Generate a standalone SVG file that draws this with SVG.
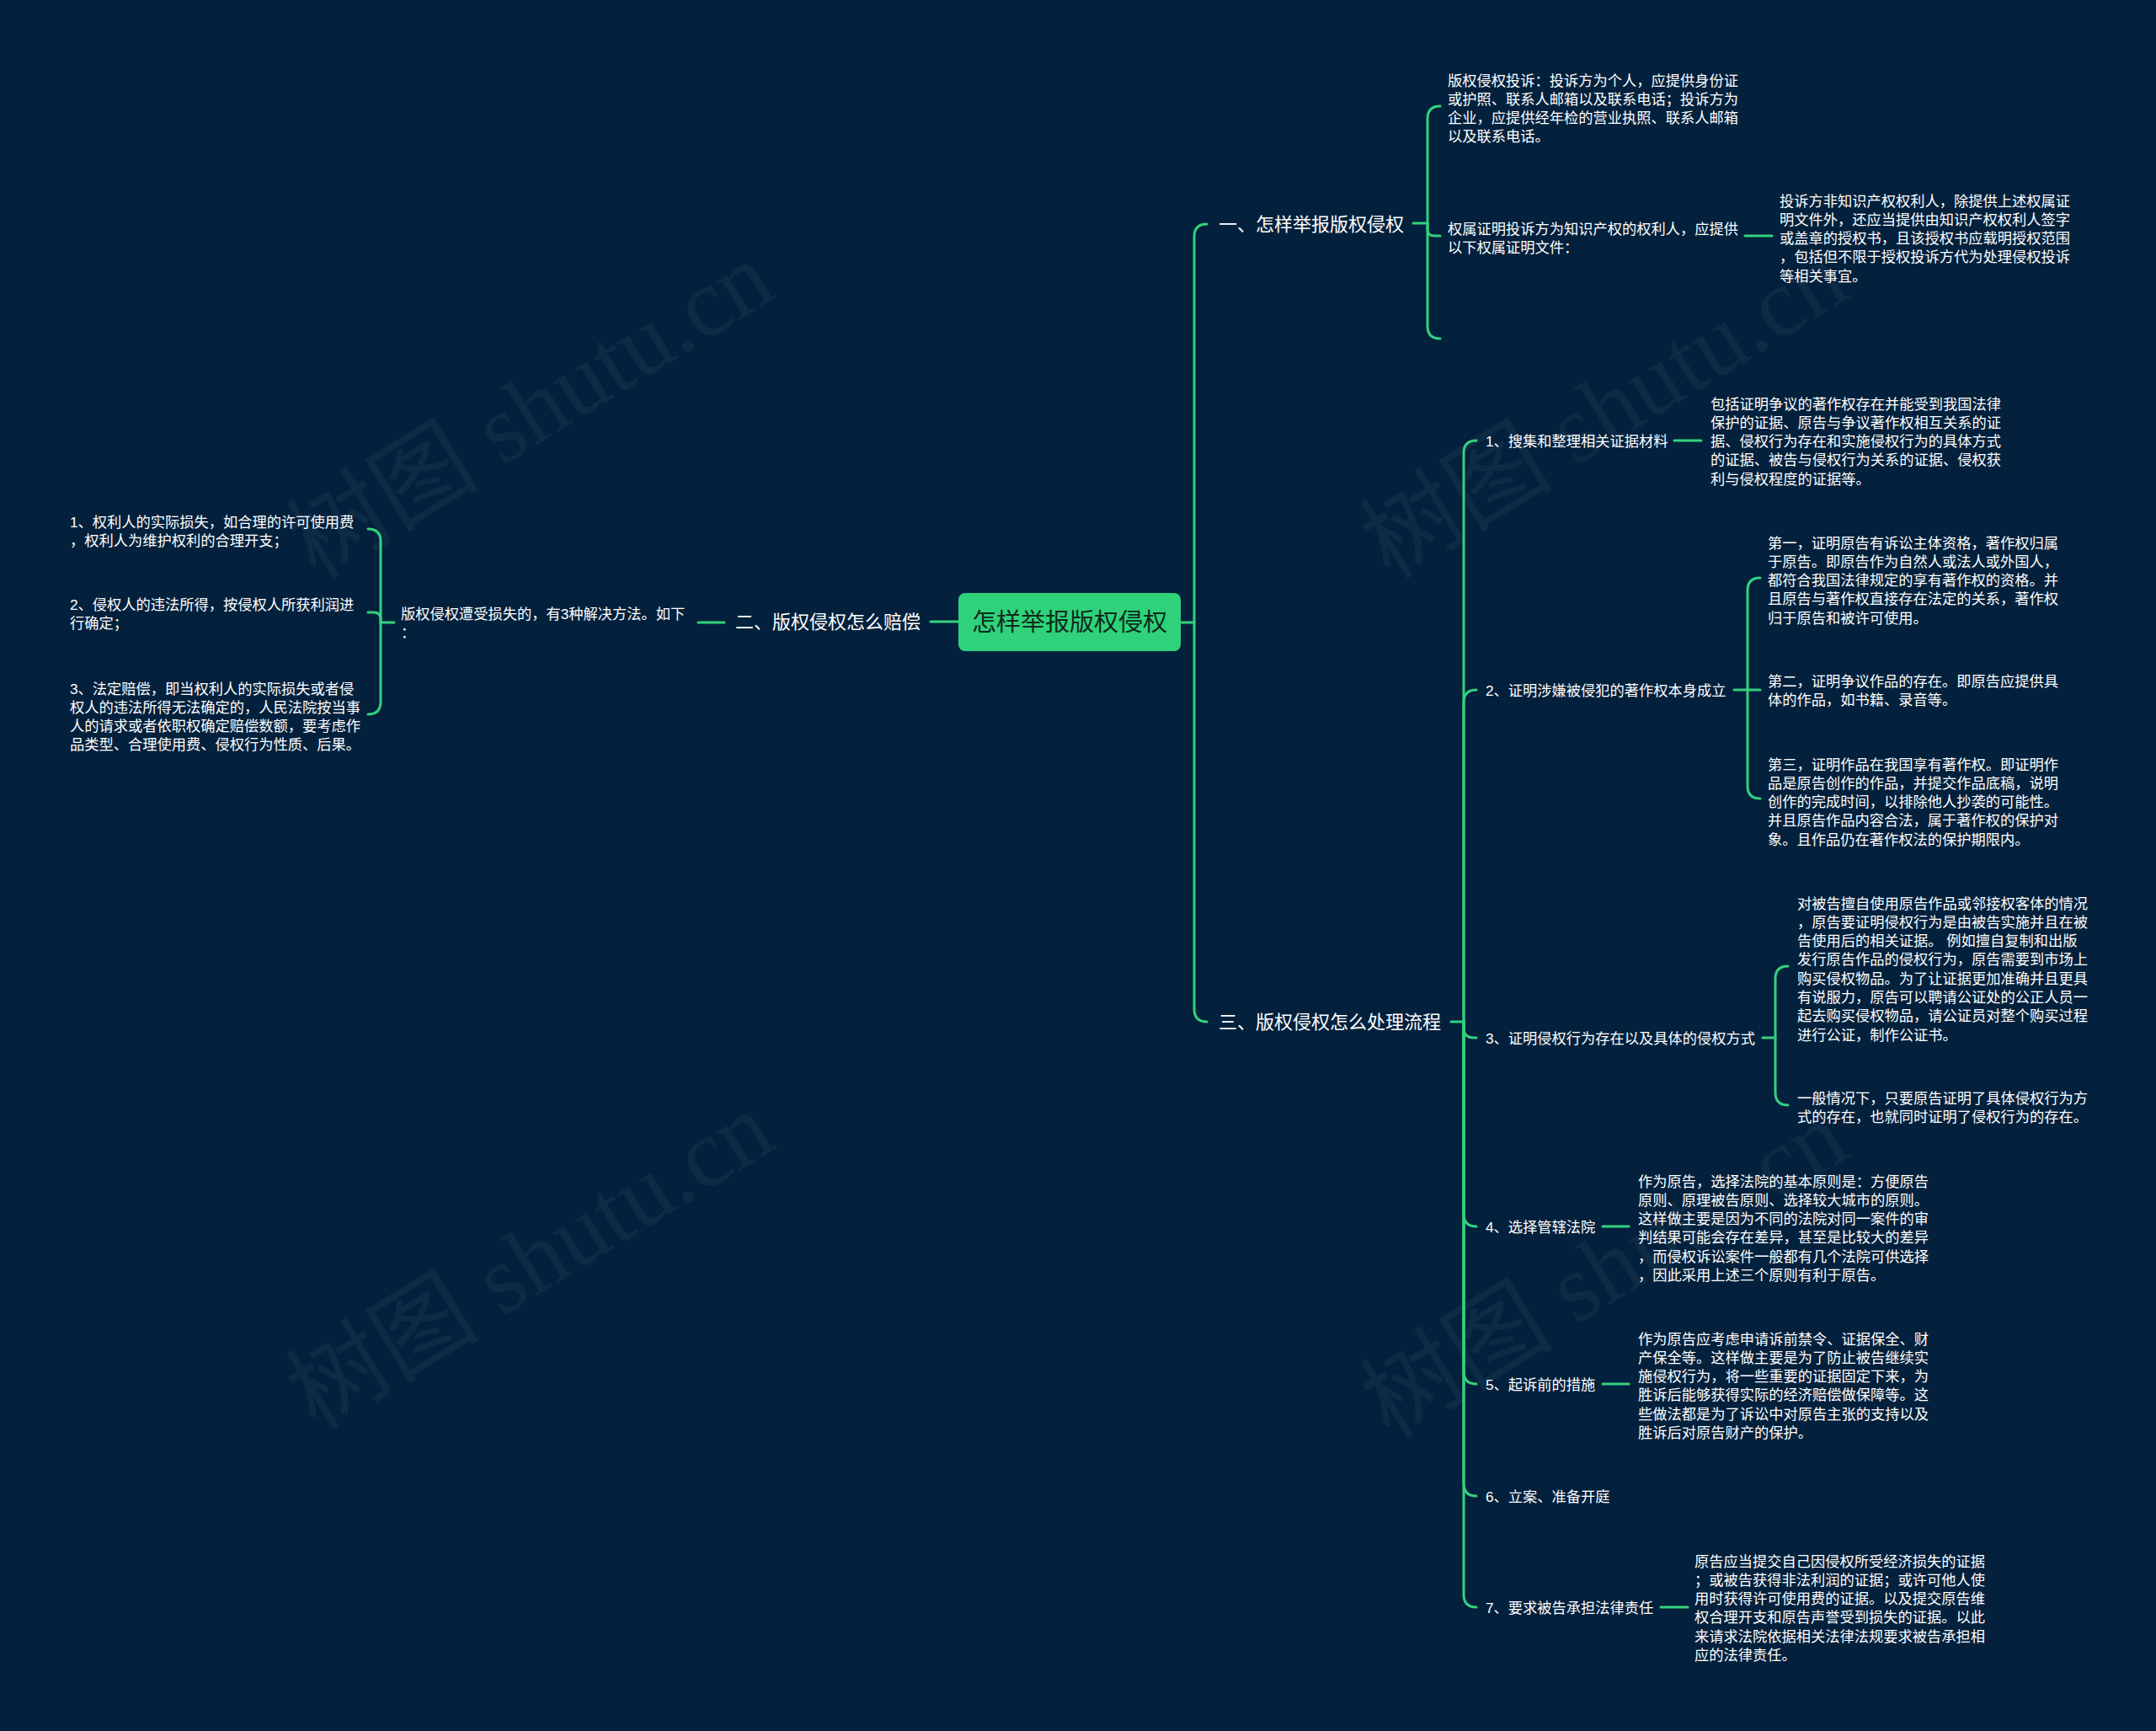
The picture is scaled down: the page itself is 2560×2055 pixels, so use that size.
<svg xmlns="http://www.w3.org/2000/svg" width="2560" height="2055" viewBox="0 0 2560 2055">
<style>
.bg{fill:#03213d}
.ln{fill:none;stroke:#34d17c;stroke-width:3;stroke-linecap:round}
.t{font-family:"Liberation Sans","Noto Sans CJK SC",sans-serif;fill:#ffffff}
.s{font-size:17.25px}
.b{font-size:22px}
.root{font-size:29px;fill:#0d2a1e}
.wm{font-family:"Liberation Serif","Noto Sans CJK SC",serif;font-size:115px;fill:#ffffff;opacity:0.045}
</style>
<rect class="bg" x="0" y="0" width="2560" height="2055"/>
<g id="watermarks">
<text class="wm" transform="translate(650,520) rotate(-31.6)" text-anchor="middle">树图 shutu.cn</text>
<text class="wm" transform="translate(1925,520) rotate(-31.6)" text-anchor="middle">树图 shutu.cn</text>
<text class="wm" transform="translate(650,1530) rotate(-31.6)" text-anchor="middle">树图 shutu.cn</text>
<text class="wm" transform="translate(1925,1540) rotate(-31.6)" text-anchor="middle">树图 shutu.cn</text>
</g>
<g id="connectors">
<path class="ln" d="M1105,738 L1138,738"/>
<path class="ln" d="M829,739 L860,739"/>
<path class="ln" d="M468,739 L452,739"/>
<path class="ln" d="M452,739 L452,643 Q452,628 437,628"/>
<path class="ln" d="M452,739 L452,735 Q452,727 444,727 L437,727"/>
<path class="ln" d="M452,739 L452,833 Q452,848 437,848"/>
<path class="ln" d="M1402,739 L1418,739"/>
<path class="ln" d="M1418,739 L1418,281 Q1418,266 1433,266"/>
<path class="ln" d="M1418,739 L1418,1198 Q1418,1213 1433,1213"/>
<path class="ln" d="M1678,265 L1695,265"/>
<path class="ln" d="M1695,265 L1695,141 Q1695,126 1710,126"/>
<path class="ln" d="M1695,265 L1695,272 Q1695,280 1703,280 L1710,280"/>
<path class="ln" d="M1695,265 L1695,387 Q1695,402 1710,402"/>
<path class="ln" d="M2072,280 L2104,280"/>
<path class="ln" d="M1723,1213 L1738,1213"/>
<path class="ln" d="M1738,1213 L1738,538 Q1738,523 1753,523"/>
<path class="ln" d="M1738,1213 L1738,834 Q1738,819 1753,819"/>
<path class="ln" d="M1738,1213 L1738,1220 Q1738,1232 1750,1232 L1753,1232"/>
<path class="ln" d="M1738,1213 L1738,1441 Q1738,1456 1753,1456"/>
<path class="ln" d="M1738,1213 L1738,1628 Q1738,1643 1753,1643"/>
<path class="ln" d="M1738,1213 L1738,1761 Q1738,1776 1753,1776"/>
<path class="ln" d="M1738,1213 L1738,1893 Q1738,1908 1753,1908"/>
<path class="ln" d="M1988,523 L2020,523"/>
<path class="ln" d="M2059,819 L2075,819"/>
<path class="ln" d="M2075,819 L2075,701 Q2075,686 2090,686"/>
<path class="ln" d="M2075,819 L2090,819"/>
<path class="ln" d="M2075,819 L2075,933 Q2075,948 2090,948"/>
<path class="ln" d="M2093,1232 L2108,1232"/>
<path class="ln" d="M2108,1232 L2108,1162 Q2108,1147 2123,1147"/>
<path class="ln" d="M2108,1232 L2108,1297 Q2108,1312 2123,1312"/>
<path class="ln" d="M1903,1456 L1934,1456"/>
<path class="ln" d="M1903,1643 L1934,1643"/>
<path class="ln" d="M1972,1908 L2004,1908"/>
</g>
<g id="root">
<rect x="1138" y="704" width="264" height="69" rx="8" fill="#2fd27a"/>
<text class="t root" x="1270" y="749" text-anchor="middle">怎样举报版权侵权</text>
</g>
<g id="b2">
<text class="t b" x="873" y="746">二、版权侵权怎么赔偿</text>
</g>
<g id="b2-n">
<text class="t s" x="476" y="734.5">版权侵权遭受损失的，有3种解决方法。如下<tspan x="476" dy="22.3">：</tspan></text>
</g>
<g id="b2-1">
<text class="t s" x="83" y="625.5">1、权利人的实际损失，如合理的许可使用费<tspan x="83" dy="22.3">，权利人为维护权利的合理开支；</tspan></text>
</g>
<g id="b2-2">
<text class="t s" x="83" y="723.5">2、侵权人的违法所得，按侵权人所获利润进<tspan x="83" dy="22.3">行确定；</tspan></text>
</g>
<g id="b2-3">
<text class="t s" x="83" y="823.5">3、法定赔偿，即当权利人的实际损失或者侵<tspan x="83" dy="22.3">权人的违法所得无法确定的，人民法院按当事</tspan><tspan x="83" dy="22.3">人的请求或者依职权确定赔偿数额，要考虑作</tspan><tspan x="83" dy="22.3">品类型、合理使用费、侵权行为性质、后果。</tspan></text>
</g>
<g id="b1">
<text class="t b" x="1447" y="274">一、怎样举报版权侵权</text>
</g>
<g id="b1-1">
<text class="t s" x="1719" y="101.5">版权侵权投诉：投诉方为个人，应提供身份证<tspan x="1719" dy="22.3">或护照、联系人邮箱以及联系电话；投诉方为</tspan><tspan x="1719" dy="22.3">企业，应提供经年检的营业执照、联系人邮箱</tspan><tspan x="1719" dy="22.3">以及联系电话。</tspan></text>
</g>
<g id="b1-2">
<text class="t s" x="1719" y="277.5">权属证明投诉方为知识产权的权利人，应提供<tspan x="1719" dy="22.3">以下权属证明文件：</tspan></text>
</g>
<g id="b1-2-1">
<text class="t s" x="2113" y="244.5">投诉方非知识产权权利人，除提供上述权属证<tspan x="2113" dy="22.3">明文件外，还应当提供由知识产权权利人签字</tspan><tspan x="2113" dy="22.3">或盖章的授权书，且该授权书应载明授权范围</tspan><tspan x="2113" dy="22.3">，包括但不限于授权投诉方代为处理侵权投诉</tspan><tspan x="2113" dy="22.3">等相关事宜。</tspan></text>
</g>
<g id="b3">
<text class="t b" x="1447" y="1221">三、版权侵权怎么处理流程</text>
</g>
<g id="b3-1">
<text class="t s" x="1764" y="529.5">1、搜集和整理相关证据材料</text>
</g>
<g id="b3-1-1">
<text class="t s" x="2031" y="485.5">包括证明争议的著作权存在并能受到我国法律<tspan x="2031" dy="22.3">保护的证据、原告与争议著作权相互关系的证</tspan><tspan x="2031" dy="22.3">据、侵权行为存在和实施侵权行为的具体方式</tspan><tspan x="2031" dy="22.3">的证据、被告与侵权行为关系的证据、侵权获</tspan><tspan x="2031" dy="22.3">利与侵权程度的证据等。</tspan></text>
</g>
<g id="b3-2">
<text class="t s" x="1764" y="825.5">2、证明涉嫌被侵犯的著作权本身成立</text>
</g>
<g id="b3-2-1">
<text class="t s" x="2099" y="650.5">第一，证明原告有诉讼主体资格，著作权归属<tspan x="2099" dy="22.3">于原告。即原告作为自然人或法人或外国人，</tspan><tspan x="2099" dy="22.3">都符合我国法律规定的享有著作权的资格。并</tspan><tspan x="2099" dy="22.3">且原告与著作权直接存在法定的关系，著作权</tspan><tspan x="2099" dy="22.3">归于原告和被许可使用。</tspan></text>
</g>
<g id="b3-2-2">
<text class="t s" x="2099" y="814.5">第二，证明争议作品的存在。即原告应提供具<tspan x="2099" dy="22.3">体的作品，如书籍、录音等。</tspan></text>
</g>
<g id="b3-2-3">
<text class="t s" x="2099" y="913.5">第三，证明作品在我国享有著作权。即证明作<tspan x="2099" dy="22.3">品是原告创作的作品，并提交作品底稿，说明</tspan><tspan x="2099" dy="22.3">创作的完成时间，以排除他人抄袭的可能性。</tspan><tspan x="2099" dy="22.3">并且原告作品内容合法，属于著作权的保护对</tspan><tspan x="2099" dy="22.3">象。且作品仍在著作权法的保护期限内。</tspan></text>
</g>
<g id="b3-3">
<text class="t s" x="1764" y="1238.5">3、证明侵权行为存在以及具体的侵权方式</text>
</g>
<g id="b3-3-1">
<text class="t s" x="2134" y="1078.5">对被告擅自使用原告作品或邻接权客体的情况<tspan x="2134" dy="22.3">，原告要证明侵权行为是由被告实施并且在被</tspan><tspan x="2134" dy="22.3">告使用后的相关证据。 例如擅自复制和出版</tspan><tspan x="2134" dy="22.3">发行原告作品的侵权行为，原告需要到市场上</tspan><tspan x="2134" dy="22.3">购买侵权物品。为了让证据更加准确并且更具</tspan><tspan x="2134" dy="22.3">有说服力，原告可以聘请公证处的公正人员一</tspan><tspan x="2134" dy="22.3">起去购买侵权物品，请公证员对整个购买过程</tspan><tspan x="2134" dy="22.3">进行公证，制作公证书。</tspan></text>
</g>
<g id="b3-3-2">
<text class="t s" x="2134" y="1309.5">一般情况下，只要原告证明了具体侵权行为方<tspan x="2134" dy="22.3">式的存在，也就同时证明了侵权行为的存在。</tspan></text>
</g>
<g id="b3-4">
<text class="t s" x="1764" y="1462.5">4、选择管辖法院</text>
</g>
<g id="b3-4-1">
<text class="t s" x="1945" y="1408.5">作为原告，选择法院的基本原则是：方便原告<tspan x="1945" dy="22.3">原则、原理被告原则、选择较大城市的原则。</tspan><tspan x="1945" dy="22.3">这样做主要是因为不同的法院对同一案件的审</tspan><tspan x="1945" dy="22.3">判结果可能会存在差异，甚至是比较大的差异</tspan><tspan x="1945" dy="22.3">，而侵权诉讼案件一般都有几个法院可供选择</tspan><tspan x="1945" dy="22.3">，因此采用上述三个原则有利于原告。</tspan></text>
</g>
<g id="b3-5">
<text class="t s" x="1764" y="1649.5">5、起诉前的措施</text>
</g>
<g id="b3-5-1">
<text class="t s" x="1945" y="1595.5">作为原告应考虑申请诉前禁令、证据保全、财<tspan x="1945" dy="22.3">产保全等。这样做主要是为了防止被告继续实</tspan><tspan x="1945" dy="22.3">施侵权行为，将一些重要的证据固定下来，为</tspan><tspan x="1945" dy="22.3">胜诉后能够获得实际的经济赔偿做保障等。这</tspan><tspan x="1945" dy="22.3">些做法都是为了诉讼中对原告主张的支持以及</tspan><tspan x="1945" dy="22.3">胜诉后对原告财产的保护。</tspan></text>
</g>
<g id="b3-6">
<text class="t s" x="1764" y="1782.5">6、立案、准备开庭</text>
</g>
<g id="b3-7">
<text class="t s" x="1764" y="1914.5">7、要求被告承担法律责任</text>
</g>
<g id="b3-7-1">
<text class="t s" x="2012" y="1859.5">原告应当提交自己因侵权所受经济损失的证据<tspan x="2012" dy="22.3">；或被告获得非法利润的证据；或许可他人使</tspan><tspan x="2012" dy="22.3">用时获得许可使用费的证据。以及提交原告维</tspan><tspan x="2012" dy="22.3">权合理开支和原告声誉受到损失的证据。以此</tspan><tspan x="2012" dy="22.3">来请求法院依据相关法律法规要求被告承担相</tspan><tspan x="2012" dy="22.3">应的法律责任。</tspan></text>
</g>
</svg>
